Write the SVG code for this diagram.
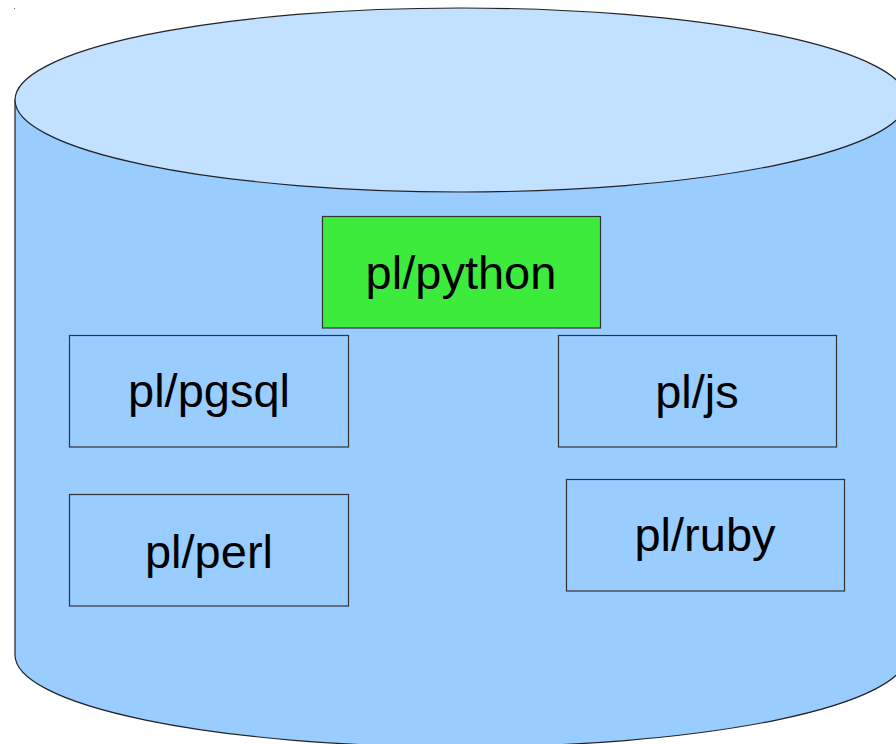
<svg xmlns="http://www.w3.org/2000/svg" width="896" height="744" viewBox="0 0 896 744">
<style>
.body{fill:#99ccff;stroke:#222;stroke-width:1.2}
.top{fill:#c2e0ff;stroke:#222;stroke-width:1.2}
.box{fill:#99ccff;stroke:#333;stroke-width:1.2}
.green{fill:#3deb3d;stroke:#333;stroke-width:1.2}
.lbl{font-family:"Liberation Sans",Arial,sans-serif;font-size:47px;fill:#000;text-anchor:middle}
</style>
<rect width="896" height="744" fill="#fff"/>
<rect x="14" y="8" width="1" height="1" fill="#666"/>
<g id="database">
<path class="body" d="M15,100 L15,655 A446,92 0 0 0 907,655 L907,100 Z"/>
<ellipse class="top" cx="461" cy="100" rx="446" ry="92"/>
</g>
<g id="connectors"></g>
<g id="python"><rect class="green" x="322.5" y="216.5" width="278" height="111.5"/><text class="lbl" x="461" y="289">pl/python</text></g>
<g id="pgsql"><rect class="box" x="69.5" y="335.5" width="279" height="111.5"/><text class="lbl" x="209" y="407">pl/pgsql</text></g>
<g id="js"><rect class="box" x="558.5" y="335.5" width="278" height="111.5"/><text class="lbl" x="697" y="408">pl/js</text></g>
<g id="perl"><rect class="box" x="69.5" y="494.5" width="279" height="111.5"/><text class="lbl" x="209" y="568">pl/perl</text></g>
<g id="ruby"><rect class="box" x="566.5" y="479.5" width="278" height="111.5"/><text class="lbl" x="705" y="551">pl/ruby</text></g>
</svg>
